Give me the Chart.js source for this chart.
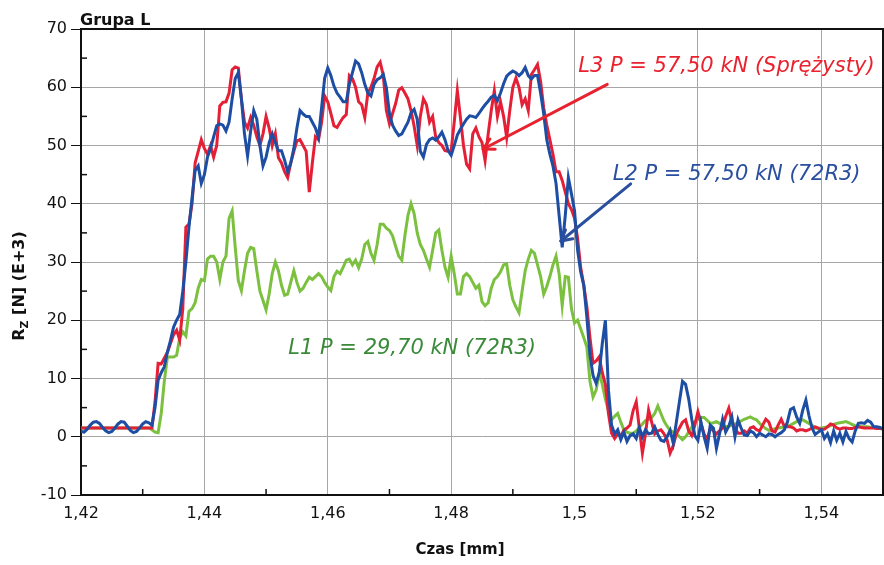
<!DOCTYPE html>
<html lang="pl">
<head>
<meta charset="UTF-8">
<title>Grupa L</title>
<script src="https://cdn.jsdelivr.net/npm/chart.js@4.4.1/dist/chart.umd.min.js"></script>
<style>
    html, body { margin: 0; padding: 0; background: #fff; }
    canvas { display: block; }
</style>
</head>
<body>
<canvas id="wykres" width="884" height="565"></canvas>
<script>
// Czas [mm] - wspolna os dla wszystkich przebiegow (co 0,0005 mm)
const czas = [
    1.4200, 1.4205, 1.4210, 1.4215, 1.4220, 1.4225, 1.4230, 1.4235, 1.4240, 1.4245,
    1.4250, 1.4255, 1.4260, 1.4265, 1.4270, 1.4275, 1.4280, 1.4285, 1.4290, 1.4295,
    1.4300, 1.4305, 1.4310, 1.4315, 1.4320, 1.4325, 1.4330, 1.4335, 1.4340, 1.4345,
    1.4350, 1.4355, 1.4360, 1.4365, 1.4370, 1.4375, 1.4380, 1.4385, 1.4390, 1.4395,
    1.4400, 1.4405, 1.4410, 1.4415, 1.4420, 1.4425, 1.4430, 1.4435, 1.4440, 1.4445,
    1.4450, 1.4455, 1.4460, 1.4465, 1.4470, 1.4475, 1.4480, 1.4485, 1.4490, 1.4495,
    1.4500, 1.4505, 1.4510, 1.4515, 1.4520, 1.4525, 1.4530, 1.4535, 1.4540, 1.4545,
    1.4550, 1.4555, 1.4560, 1.4565, 1.4570, 1.4575, 1.4580, 1.4585, 1.4590, 1.4595,
    1.4600, 1.4605, 1.4610, 1.4615, 1.4620, 1.4625, 1.4630, 1.4635, 1.4640, 1.4645,
    1.4650, 1.4655, 1.4660, 1.4665, 1.4670, 1.4675, 1.4680, 1.4685, 1.4690, 1.4695,
    1.4700, 1.4705, 1.4710, 1.4715, 1.4720, 1.4725, 1.4730, 1.4735, 1.4740, 1.4745,
    1.4750, 1.4755, 1.4760, 1.4765, 1.4770, 1.4775, 1.4780, 1.4785, 1.4790, 1.4795,
    1.4800, 1.4805, 1.4810, 1.4815, 1.4820, 1.4825, 1.4830, 1.4835, 1.4840, 1.4845,
    1.4850, 1.4855, 1.4860, 1.4865, 1.4870, 1.4875, 1.4880, 1.4885, 1.4890, 1.4895,
    1.4900, 1.4905, 1.4910, 1.4915, 1.4920, 1.4925, 1.4930, 1.4935, 1.4940, 1.4945,
    1.4950, 1.4955, 1.4960, 1.4965, 1.4970, 1.4975, 1.4980, 1.4985, 1.4990, 1.4995,
    1.5000, 1.5005, 1.5010, 1.5015, 1.5020, 1.5025, 1.5030, 1.5035, 1.5040, 1.5045,
    1.5050, 1.5055, 1.5060, 1.5065, 1.5070, 1.5075, 1.5080, 1.5085, 1.5090, 1.5095,
    1.5100, 1.5105, 1.5110, 1.5115, 1.5120, 1.5125, 1.5130, 1.5135, 1.5140, 1.5145,
    1.5150, 1.5155, 1.5160, 1.5165, 1.5170, 1.5175, 1.5180, 1.5185, 1.5190, 1.5195,
    1.5200, 1.5205, 1.5210, 1.5215, 1.5220, 1.5225, 1.5230, 1.5235, 1.5240, 1.5245,
    1.5250, 1.5255, 1.5260, 1.5265, 1.5270, 1.5275, 1.5280, 1.5285, 1.5290, 1.5295,
    1.5300, 1.5305, 1.5310, 1.5315, 1.5320, 1.5325, 1.5330, 1.5335, 1.5340, 1.5345,
    1.5350, 1.5355, 1.5360, 1.5365, 1.5370, 1.5375, 1.5380, 1.5385, 1.5390, 1.5395,
    1.5400, 1.5405, 1.5410, 1.5415, 1.5420, 1.5425, 1.5430, 1.5435, 1.5440, 1.5445,
    1.5450, 1.5455, 1.5460, 1.5465, 1.5470, 1.5475, 1.5480, 1.5485, 1.5490, 1.5495,
    1.5500
];

// L2 P = 57,50 kN (72R3) - niebieski
const seriaL2 = [
    0.9, 0.8, 1.3, 2.0, 2.5, 2.6, 2.3, 1.6, 1.0, 0.7,
    0.9, 1.5, 2.2, 2.6, 2.5, 1.8, 1.1, 0.7, 0.9, 1.5,
    2.2, 2.6, 2.4, 2.0, 5, 9.7, 11, 12, 14.5, 16.5,
    18.8, 20, 21, 25, 30, 36, 41, 45.7, 46.5, 43.5,
    45, 48, 49.5, 51.5, 53.4, 53.7, 53.5, 52.5, 54, 58,
    61.5, 62.5, 58, 52, 48.2, 52.5, 56, 54.5, 50, 46.5,
    48, 50.5, 52, 50.5, 49.1, 49.1, 47.5, 45.5, 47, 49.5,
    53, 56, 55.4, 55, 55, 54, 53, 51.4, 56.5, 61.6,
    63.3, 62, 60.2, 59, 58.3, 57.5, 57.5, 60.5, 62.5, 64.5,
    64, 62.5, 60.5, 59, 58.5, 60.5, 61.3, 61.6, 62.2, 59.9,
    55.5, 53.5, 52.5, 51.7, 52, 53, 54, 55.6, 56.2, 54.5,
    49, 48, 50.2, 51, 51.3, 50.9, 51.5, 52.3, 51, 49.1,
    48.3, 50, 51.8, 52.8, 53.7, 54.5, 55.1, 55, 54.8, 55.5,
    56.3, 57, 57.6, 58.3, 58.6, 57.7, 59, 60.6, 61.9, 62.4,
    62.8, 62.5, 62, 62.5, 63.4, 62, 61.4, 62, 62, 59,
    55.5, 51, 48.5, 46.5, 43.5, 38, 32.5, 38, 44.5, 41.7,
    38.8, 32, 28.3, 26, 20.5, 14, 10.5, 9.2, 11, 16,
    20, 8, 2, 0.5, 1.2, -0.5, 0.8, -0.8, 0.2, 0.5,
    -0.3, 1.6, 0, 1.2, 0.5, 0.6, 1.7, 0.4, -0.6, -0.8,
    0, 1.1, -1.1, 2.5, 6, 9.5, 9, 6.5, 3, 0.2,
    -0.6, 2.5, 0, -2, 2, 1.5, -2, 0.5, 3, 0.8,
    1.8, 3.4, 0, 2.9, 1.5, 0.3, 0.2, 1, 0.7, 0,
    0.6, 0.3, 0, 0.5, 0.4, 0, 0.4, 0.7, 1.2, 2.5,
    4.7, 5, 3.4, 2.3, 4.6, 6.3, 3.6, 1.5, 0.4, 0.8,
    1.2, -0.3, 0.5, -1, 1, -0.6, 0.6, -0.9, 0.9, -0.3,
    -0.9, 1, 2.3, 2.4, 2.3, 2.8, 2.5, 1.7, 1.7, 1.6,
    1.4
];

// L3 P = 57,50 kN (Sprezysty) - czerwony
const seriaL3 = [
    1.5, 1.5, 1.5, 1.5, 1.5, 1.5, 1.5, 1.5, 1.5, 1.5,
    1.5, 1.5, 1.5, 1.5, 1.5, 1.5, 1.5, 1.5, 1.5, 1.5,
    1.5, 1.5, 1.5, 1.5, 6, 12.6, 12.5, 13.5, 14.5, 16,
    17.5, 18.3, 16.6, 22, 36, 36.5, 40, 47, 49, 51,
    49.5, 48.5, 50, 48, 50, 56.8, 57.4, 57.5, 59, 63,
    63.5, 63.3, 58, 54, 53, 54.8, 53.5, 51.5, 50, 52,
    55, 53, 50, 52, 47.9, 47, 45.5, 44.5, 47, 49,
    50.8, 51, 50, 49, 42, 47, 51.5, 51, 54, 58.5,
    57.5, 55.5, 53.4, 53.1, 54, 54.8, 55.3, 62, 61.5, 60,
    57.5, 57, 54.8, 59, 60, 61.5, 63.5, 64.3, 62, 56,
    53.7, 55.5, 57.2, 59.5, 59.9, 59, 58, 56, 53.3, 50,
    55, 58, 57, 54, 55, 51.4, 50.5, 50, 49.1, 49,
    49.1, 54, 59.4, 54.8, 50, 46.8, 46, 52, 53, 51.5,
    50.5, 47.4, 52, 56, 59.4, 55, 57.5, 55, 51.4, 56,
    60, 61.6, 60, 57, 58, 56, 62.2, 63, 63.9, 61,
    56.5, 53.5, 51, 48.5, 45.5, 45.5, 44, 42, 40, 39,
    37.5, 34, 29, 26, 22.3, 17, 12.6, 13, 13.7, 11,
    9, 4, 0.6, -0.3, 0.5, 0.2, 1.1, 1.5, 2, 4.5,
    6, 1.5, -2.8, 0.5, 4.6, 2.5, 0.5, 1, 1.2, 0.5,
    -0.5, -2.8, -1.5, 0.5, 1.5, 2.5, 2.9, 1, 0.2, 2,
    4.3, 2.3, 0.5, -0.5, 1.5, 1, 0.5, 1, 1.5, 3.5,
    4.9, 2.5, 1.5, 0.6, 0.6, 1, 0.6, 1.5, 1.7, 1.2,
    1, 2, 3, 2.5, 1, 0.8, 2, 3, 1.8, 1.7,
    1.7, 1.5, 1, 1.2, 1.2, 1, 1.2, 1.5, 1.7, 1.5,
    1.2, 1.3, 1.7, 2.2, 2, 1.5, 1.3, 1.5, 1.5, 1.4,
    1.4, 1.6, 1.7, 1.6, 1.5, 1.5, 1.5, 1.5, 1.4, 1.4,
    1.4
];

// L1 P = 29,70 kN (72R3) - zielony
const seriaL1 = [
    1.5, 1.5, 1.5, 1.5, 1.5, 1.5, 1.5, 1.5, 1.5, 1.5,
    1.5, 1.5, 1.5, 1.5, 1.5, 1.5, 1.5, 1.5, 1.5, 1.5,
    1.5, 1.5, 1.5, 1.2, 0.8, 0.7, 4, 9.5, 13.7, 13.7,
    13.7, 14, 17, 18, 17.3, 21.5, 22, 23, 25.5, 27,
    26.8, 30.5, 31, 31, 30, 27, 30, 31, 37.5, 38.8,
    32.5, 26.8, 25.1, 28.5, 31.5, 32.5, 32.3, 28.5, 25, 23.4,
    21.8, 24.5, 28, 30, 28.5, 26, 24.3, 24.5, 26.5, 28.5,
    26.5, 25, 25.5, 26.5, 27.4, 27, 27.5, 28, 27.5, 26.5,
    25.7, 25.1, 27.5, 28.4, 28, 29.1, 30.3, 30.5, 29.5, 30.3,
    29, 30.5, 33, 33.5, 31.5, 30.3, 33, 36.5, 36.5, 35.8,
    35.4, 34.5, 32.7, 31, 30.3, 34.5, 38, 40, 38.3, 35,
    33, 32, 30.5, 29.1, 32, 35, 35.5, 32, 29.1, 27.4,
    31, 28, 24.5, 24.5, 27.5, 28, 27.5, 26.5, 25.5, 26,
    23.2, 22.5, 23, 25.5, 27, 27.5, 28.3, 29.5, 29.7, 26,
    23.5, 22.3, 21.3, 25, 28.5, 30.5, 32, 31.5, 29.5, 27.5,
    24.5, 25.8, 27.5, 29.5, 31, 28, 22.5, 27.5, 27.4, 22,
    19.5, 20, 18.5, 17, 15.4, 9.5, 6.8, 8, 11, 9,
    6.5, 4.5, 2.9, 3.5, 4, 2.5, 1.2, 0.8, 0.6, 0.6,
    1, 1.6, 2.2, 2.8, 3, 3.3, 4, 5.3, 4, 2.7,
    1.8, 1.1, 0.8, 0.6, 0, -0.5, 0, 0.8, 1.6, 2.6,
    3, 3.3, 3.3, 2.8, 2.3, 2.4, 2.6, 2.3, 2, 1.7,
    1.8, 2, 2.2, 2.4, 2.7, 3, 3.2, 3.4, 3.1, 2.9,
    2.3, 1.8, 1.4, 1.1, 1.2, 1.4, 1.5, 1.6, 1.7, 1.8,
    2, 2.3, 2.6, 2.8, 2.9, 2.6, 2.3, 2, 1.5, 1.4,
    1.5, 1.6, 1.7, 1.9, 2.1, 2.3, 2.4, 2.5, 2.6, 2.4,
    2.1, 1.9, 1.8, 1.7, 1.7, 1.7, 1.6, 1.6, 1.5, 1.4,
    1.3
];

const ticksX = [1.42, 1.44, 1.46, 1.48, 1.5, 1.52, 1.54];
const ticksXPomocnicze = [1.43, 1.45, 1.47, 1.49, 1.51, 1.53];
const ticksYPomocnicze = [-5, 5, 15, 25, 35, 45, 55, 65];

const czcionka = '"DejaVu Sans", Verdana, sans-serif';

// Opisy przebiegow ze strzalkami (wspolrzedne w jednostkach osi)
const opisy = [
    { tekst: "L3 P = 57,50 kN (Sprężysty)", kolor: "#e8222e", x: 1.5006, y: 63.6,
      strzalka: { od: [1.5053, 60.5], do: [1.4852, 49.4] } },
    { tekst: "L2 P = 57,50 kN (72R3)", kolor: "#2a4f9e", x: 1.5062, y: 45,
      strzalka: { od: [1.5091, 43.4], do: [1.4978, 33.6] } },
    { tekst: "L1 P = 29,70 kN (72R3)", kolor: "#3a8a3a", x: 1.4536, y: 15.2 }
];

function punkty(seria) {
    return seria.map((v, i) => ({ x: czas[i], y: v }));
}

function formatX(v) {
    return (+v.toFixed(2)).toString().replace(".", ",");
}

function linia(ctx, x1, y1, x2, y2) {
    ctx.beginPath();
    ctx.moveTo(x1, y1);
    ctx.lineTo(x2, y2);
    ctx.stroke();
}

const dodatki = {
    id: "dodatki",
    afterDraw(chart) {
        const { ctx, chartArea: a, scales } = chart;
        const x = scales.x, y = scales.y;
        ctx.save();

        // ramka u gory i z prawej
        ctx.strokeStyle = "#111";
        ctx.lineWidth = 2;
        ctx.beginPath();
        ctx.moveTo(a.left, a.top);
        ctx.lineTo(a.right, a.top);
        ctx.lineTo(a.right, a.bottom);
        ctx.stroke();

        // podzialki pomocnicze (do wewnatrz)
        ctx.lineWidth = 1.5;
        ticksXPomocnicze.forEach(v => {
            const px = x.getPixelForValue(v);
            linia(ctx, px, a.bottom, px, a.bottom - 6);
        });
        ticksYPomocnicze.forEach(v => {
            const py = y.getPixelForValue(v);
            linia(ctx, a.left, py, a.left + 6, py);
        });

        // tytul
        ctx.fillStyle = "#111";
        ctx.font = "bold 16px " + czcionka;
        ctx.textAlign = "left";
        ctx.textBaseline = "alphabetic";
        ctx.fillText("Grupa L", 80, 25);

        // tytul osi X
        ctx.font = "bold 15px " + czcionka;
        ctx.textAlign = "center";
        ctx.fillText("Czas [mm]", 460, 554);

        // tytul osi Y z indeksem dolnym
        ctx.save();
        ctx.translate(24, 286);
        ctx.rotate(-Math.PI / 2);
        ctx.font = "bold 16px " + czcionka;
        const wR = ctx.measureText("R").width;
        const reszta = " [N] (E+3)";
        const wReszta = ctx.measureText(reszta).width;
        ctx.font = "bold 11px " + czcionka;
        const wZ = ctx.measureText("Z").width;
        let start = -(wR + wZ + wReszta) / 2;
        ctx.textAlign = "left";
        ctx.font = "bold 16px " + czcionka;
        ctx.fillText("R", start, 0);
        ctx.font = "bold 11px " + czcionka;
        ctx.fillText("Z", start + wR, 4);
        ctx.font = "bold 16px " + czcionka;
        ctx.fillText(reszta, start + wR + wZ, 0);
        ctx.restore();

        // opisy i strzalki
        ctx.font = "italic 21px " + czcionka;
        ctx.textAlign = "left";
        ctx.textBaseline = "middle";
        opisy.forEach(o => {
            ctx.fillStyle = o.kolor;
            ctx.fillText(o.tekst, x.getPixelForValue(o.x), y.getPixelForValue(o.y));
            if (!o.strzalka) return;
            const x1 = x.getPixelForValue(o.strzalka.od[0]);
            const y1 = y.getPixelForValue(o.strzalka.od[1]);
            const x2 = x.getPixelForValue(o.strzalka.do[0]);
            const y2 = y.getPixelForValue(o.strzalka.do[1]);
            ctx.strokeStyle = o.kolor;
            ctx.lineWidth = 3;
            ctx.lineCap = "round";
            linia(ctx, x1, y1, x2, y2);
            const kat = Math.atan2(y1 - y2, x1 - x2);
            [-0.5, 0.5].forEach(d => {
                linia(ctx, x2, y2, x2 + 12 * Math.cos(kat + d), y2 + 12 * Math.sin(kat + d));
            });
        });

        ctx.restore();
    }
};

const wspolneLinii = {
    borderWidth: 3,
    pointRadius: 0,
    tension: 0,
    fill: false
};

new Chart(document.getElementById("wykres"), {
    type: "line",
    data: {
        datasets: [
            { ...wspolneLinii, label: "L2", data: punkty(seriaL2), borderColor: "#1d4ea3" },
            { ...wspolneLinii, label: "L3", data: punkty(seriaL3), borderColor: "#e41f36" },
            { ...wspolneLinii, label: "L1", data: punkty(seriaL1), borderColor: "#7cc040" }
        ]
    },
    options: {
        responsive: false,
        animation: false,
        devicePixelRatio: 1,
        layout: { padding: { top: 29, right: 1, left: 0, bottom: 0 } },
        plugins: {
            legend: { display: false },
            tooltip: { enabled: false }
        },
        scales: {
            x: {
                type: "linear",
                min: 1.42,
                max: 1.55,
                afterBuildTicks: s => { s.ticks = ticksX.map(v => ({ value: v })); },
                afterFit: s => { s.height = 70; },
                grid: { color: "#a6a6a6", lineWidth: 1, drawTicks: false },
                border: { color: "#111", width: 2 },
                ticks: {
                    padding: 9,
                    color: "#111",
                    font: { family: czcionka, size: 16 },
                    maxRotation: 0,
                    callback: v => formatX(v)
                }
            },
            y: {
                min: -10,
                max: 70,
                afterFit: s => { s.width = 81; },
                grid: { color: "#a6a6a6", lineWidth: 1, drawTicks: true, tickLength: 10, tickColor: "#111" },
                border: { color: "#111", width: 2 },
                ticks: {
                    stepSize: 10,
                    padding: 4,
                    color: "#111",
                    font: { family: czcionka, size: 16 }
                }
            }
        }
    },
    plugins: [dodatki]
});
</script>
</body>
</html>
